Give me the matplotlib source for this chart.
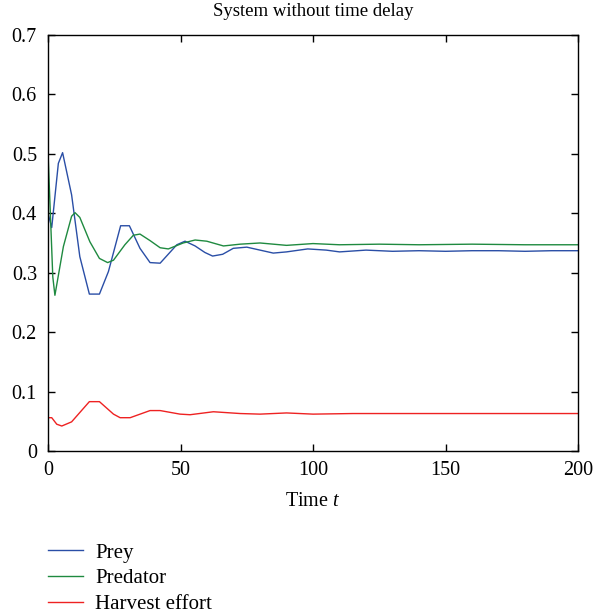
import matplotlib
matplotlib.use("Agg")
import matplotlib.pyplot as plt

# Data
t_prey = [0, 1.4, 3.9, 5.5, 8.9, 12, 15.6, 19.4, 22.8, 27.4, 30.7, 34.7, 38.5, 42.3,
          48.6, 51.7, 55.5, 59.2, 62.1, 65.9, 69.9, 75, 78, 85, 90, 98, 105, 110,
          120, 130, 140, 150, 160, 170, 180, 190, 200]
prey = [0.40, 0.376, 0.484, 0.502, 0.431, 0.327, 0.264, 0.264, 0.302, 0.379, 0.379,
        0.341, 0.317, 0.316, 0.347, 0.353, 0.345, 0.334, 0.328, 0.331, 0.341, 0.343,
        0.340, 0.333, 0.335, 0.340, 0.338, 0.335, 0.338, 0.336, 0.337, 0.336, 0.337,
        0.337, 0.336, 0.337, 0.337]

t_pred = [0, 1.8, 2.6, 5.8, 8.9, 10.2, 12, 15.8, 19.4, 22.5, 24.7, 29, 32.2, 34.7,
          38.5, 42.3, 45.4, 51, 55.5, 59.9, 66.2, 72.5, 80, 90, 100, 110, 125, 140,
          160, 180, 200]
predator = [0.502, 0.293, 0.262, 0.344, 0.395, 0.401, 0.393, 0.352, 0.324, 0.317,
            0.321, 0.347, 0.363, 0.365, 0.354, 0.342, 0.340, 0.350, 0.355, 0.353,
            0.345, 0.348, 0.350, 0.346, 0.349, 0.347, 0.348, 0.347, 0.348, 0.347, 0.347]

t_harv = [0, 1.4, 3.3, 5.2, 8.9, 15.6, 19.4, 24.7, 27.2, 31, 38.5, 42.3, 49.8, 53.6,
          62.4, 72.5, 80, 90, 100, 115, 130, 150, 170, 200]
harvest = [0.056, 0.056, 0.045, 0.042, 0.049, 0.083, 0.083, 0.062, 0.056, 0.056,
           0.068, 0.068, 0.062, 0.061, 0.066, 0.063, 0.062, 0.064, 0.062, 0.063,
           0.063, 0.063, 0.063, 0.063]

x_ticks = [0, 50, 100, 150, 200]
y_ticks = [0, 0.1, 0.2, 0.3, 0.4, 0.5, 0.6, 0.7]
y_tick_labels = ["0", "0.1", "0.2", "0.3", "0.4", "0.5", "0.6", "0.7"]

labels = ["Prey", "Predator", "Harvest effort"]
colors = ["#2a4ea6", "#1f8a40", "#ee2222"]

plt.rcParams['font.family'] = ['Liberation Serif', 'DejaVu Serif']
plt.rcParams['mathtext.fontset'] = 'custom'
plt.rcParams['mathtext.rm'] = 'Liberation Serif'
plt.rcParams['mathtext.it'] = 'Liberation Serif:italic'

fig = plt.figure(figsize=(6.01, 6.16), dpi=100)
ax = fig.add_axes([0.0799, 0.2679, 0.8819, 0.6753])

l1, = ax.plot(t_prey, prey, color=colors[0], lw=1.0, label=labels[0])
l2, = ax.plot(t_pred, predator, color=colors[1], lw=1.0, label=labels[1])
l3, = ax.plot(t_harv, harvest, color=colors[2], lw=1.0, label=labels[2])

ax.set_xlim(0, 200)
ax.set_ylim(0, 0.7)
ax.set_xticks(x_ticks)
ax.set_yticks(y_ticks)
ax.set_yticklabels(y_tick_labels)
ax.tick_params(direction='in', top=True, right=True, labelsize=14.5, length=5, width=1)
ax.tick_params(axis='y', pad=8)
ax.tick_params(axis='x', pad=7)
for s in ax.spines.values():
    s.set_linewidth(1.0)

ax.set_title("System without time delay", fontsize=13.5, pad=14)
ax.set_xlabel("Time $\\it{t}$", fontsize=14.5, labelpad=9)

fig.legend(handles=[l1, l2, l3], labels=labels, loc='upper left',
           bbox_to_anchor=(0.066, 0.132), frameon=False, fontsize=15,
           handlelength=1.68, handletextpad=0.58, labelspacing=0.3, borderaxespad=0)

fig.savefig("out.png", dpi=100)
